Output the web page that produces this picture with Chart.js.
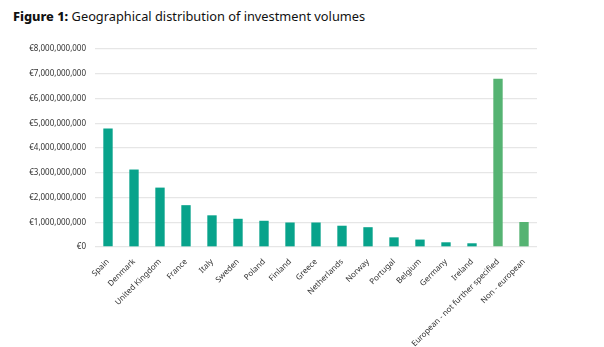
<!DOCTYPE html>
<html>
<head>
<meta charset="utf-8">
<script src="https://cdn.jsdelivr.net/npm/chart.js@4/dist/chart.umd.min.js"></script>
<style>
    html, body { margin: 0; padding: 0; background: #fff; }
    #wrap { position: relative; width: 604px; height: 347px; }
    #title {
        position: absolute; left: 13px; top: 7px;
        font-family: "Noto Sans", sans-serif; font-size: 12.8px; color: #111;
        white-space: nowrap;
    }
    #title b { font-weight: 800; }
    canvas { position: absolute; left: 0; top: 0; }
</style>
</head>
<body>
<div id="wrap">
    <div id="title"><b>Figure 1:</b> Geographical distribution of investment volumes</div>
    <canvas id="chart" width="604" height="347"></canvas>
</div>
<script>
// ── Data ─────────────────────────────────────────────────────────────
const countries = [
    'Spain', 'Denmark', 'United Kingdom', 'France', 'Italy', 'Sweden', 'Poland',
    'Finland', 'Greece', 'Netherlands', 'Norway', 'Portugal', 'Belgium',
    'Germany', 'Ireland', 'European - not further specified', 'Non - european'
];
const volumes = [
    4.79e9, 3.13e9, 2.40e9, 1.69e9, 1.28e9, 1.14e9, 1.06e9,
    0.99e9, 0.99e9, 0.86e9, 0.80e9, 0.39e9, 0.30e9,
    0.19e9, 0.15e9, 6.80e9, 1.01e9
];
const regionGroup = [
    'country', 'country', 'country', 'country', 'country', 'country', 'country',
    'country', 'country', 'country', 'country', 'country', 'country',
    'country', 'country', 'other', 'other'
];
const yTicks = [0, 1e9, 2e9, 3e9, 4e9, 5e9, 6e9, 7e9, 8e9];

const groupColors = { country: '#08a38b', other: '#55b372' };
const font = { family: '"Noto Sans", sans-serif', size: 8 };

const euro = v => '€' + v.toLocaleString('en-US');

// ── Chart ────────────────────────────────────────────────────────────
new Chart(document.getElementById('chart').getContext('2d'), {
    type: 'bar',
    data: {
        labels: countries,
        datasets: [{
            data: volumes,
            backgroundColor: regionGroup.map(g => groupColors[g]),
            borderWidth: 0,
            barPercentage: 0.36,
            categoryPercentage: 1
        }]
    },
    options: {
        responsive: false,
        animation: false,
        layout: { padding: { top: 49, right: 67, left: 0, bottom: 0 } },
        plugins: { legend: { display: false }, tooltip: { enabled: false } },
        scales: {
            x: {
                grid: { display: false },
                border: { display: false },
                ticks: {
                    color: '#333', font: font,
                    minRotation: 45, maxRotation: 45, autoSkip: false, padding: 2
                },
                afterFit: s => { s.height = 100; }
            },
            y: {
                min: 0, max: 8e9,
                afterBuildTicks: s => { s.ticks = yTicks.map(v => ({ value: v })); },
                grid: { color: '#e6e6e6', lineWidth: 1.3, drawTicks: false },
                border: { display: false },
                ticks: { color: '#333', font: font, padding: 9, callback: euro },
                afterFit: s => { s.width = 95; }
            }
        }
    }
});
</script>
</body>
</html>
